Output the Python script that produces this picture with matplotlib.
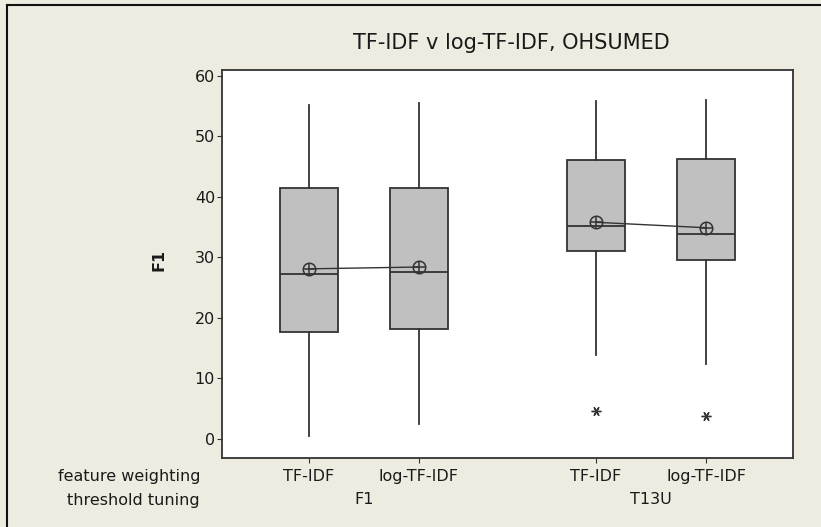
import matplotlib.pyplot as plt
from matplotlib.lines import Line2D

# values
weighting = ["TF-IDF", "log-TF-IDF", "TF-IDF", "log-TF-IDF"]
tuning = ["F1", "T13U"]
whislo = [0.4, 2.4, 13.8, 12.4]
q1 = [17.7, 18.2, 31.1, 29.5]
med = [27.2, 27.5, 35.2, 33.8]
q3 = [41.5, 41.5, 46.1, 46.3]
whishi = [55.2, 55.5, 55.9, 56.0]
means = [28.1, 28.4, 35.8, 34.9]
outliers = [[], [], [4.5], [3.8]]

positions = [1, 2, 3.61, 4.61]
bg = "#EEEBE0"
dark = "#333333"
txt = "#1a1a1a"
fs = 11.5

fig = plt.figure(figsize=(8.21, 5.27), dpi=100, facecolor=bg)
ax = fig.add_axes([222/821, 1 - 458/527, (793-222)/821, (458-70)/527])

stats = []
for i in range(4):
    stats.append(dict(med=med[i], q1=q1[i], q3=q3[i], whislo=whislo[i],
                      whishi=whishi[i], fliers=outliers[i], mean=means[i]))

ax.bxp(stats, positions=positions, widths=0.53, patch_artist=True,
       showcaps=False, showmeans=False,
       boxprops=dict(facecolor="#C0C0C0", edgecolor=dark, linewidth=1.3),
       medianprops=dict(color=dark, linewidth=1.3),
       whiskerprops=dict(color=dark, linewidth=1.3),
       flierprops=dict(marker=(6, 2, 90), markersize=7, markeredgecolor=dark,
                       markeredgewidth=1.0))

# mean symbols joined within each tuning group
for g in range(2):
    xs = positions[2*g:2*g+2]
    ys = means[2*g:2*g+2]
    ax.plot(xs, ys, color=dark, linewidth=1.0, zorder=4)
    ax.plot(xs, ys, linestyle="none", marker="o", markersize=9,
            markerfacecolor="none", markeredgecolor=dark, markeredgewidth=1.1, zorder=5)
    ax.plot(xs, ys, linestyle="none", marker="+", markersize=9,
            markeredgecolor=dark, markeredgewidth=1.1, zorder=5)

ax.set_xlim(0.21, 5.40)
ax.set_ylim(-3.2, 61)
ax.set_yticks([0, 10, 20, 30, 40, 50, 60])
ax.set_xticks(positions)
ax.set_xticklabels(weighting)
ax.tick_params(axis="both", direction="out", length=3.5, color=dark,
               labelsize=fs, labelcolor=txt)
ax.tick_params(axis="y", pad=1.5)
ax.tick_params(axis="x", pad=9.5)
for lbl in ax.get_xticklabels():
    lbl.set_va("center")
for s in ax.spines.values():
    s.set_color(dark)
    s.set_linewidth(1.3)

fig.text(159/821, 1 - 260/527, "F1", rotation=90, ha="center", va="center",
         fontsize=fs, fontweight="bold", color=txt)
fig.text(511/821, 1 - 43/527, "TF-IDF v log-TF-IDF, OHSUMED", ha="center", va="center",
         fontsize=15, color=txt)

# group labels under the ticks
fig.text(200/821, 1 - 476/527, "feature weighting", ha="right", va="center", fontsize=fs, color=txt)
fig.text(200/821, 1 - 500/527, "threshold tuning", ha="right", va="center", fontsize=fs, color=txt)
for g in range(2):
    xc = (positions[2*g] + positions[2*g+1]) / 2
    ax.text(xc, -(500 - 458) / 388, tuning[g], transform=ax.get_xaxis_transform(),
            ha="center", va="center", fontsize=fs, color=txt)

# window frame
fig.add_artist(Line2D([7/821, 7/821], [0, 1 - 5/527], color="#111111", linewidth=1.5))
fig.add_artist(Line2D([7/821, 1], [1 - 5/527, 1 - 5/527], color="#111111", linewidth=1.5))

fig.savefig("out.png", dpi=100, facecolor=bg)
